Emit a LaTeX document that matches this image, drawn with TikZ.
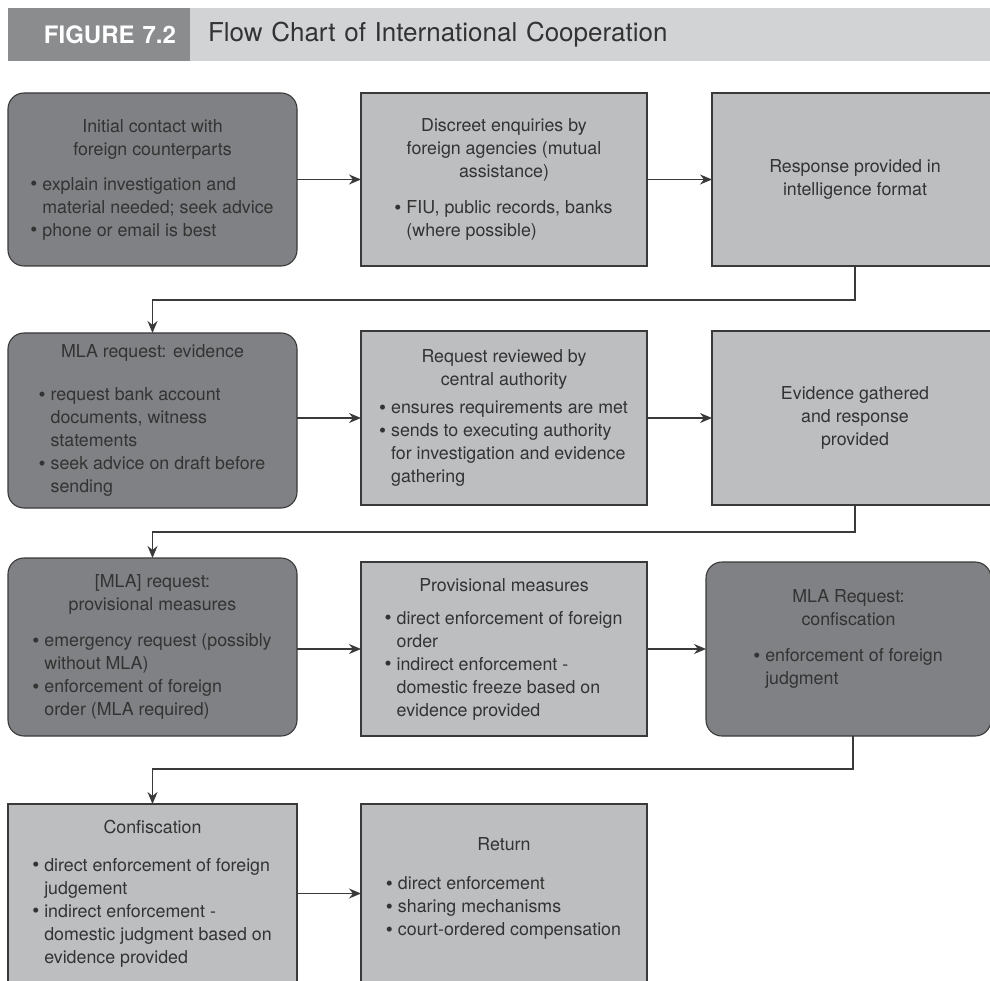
\documentclass[tikz,border=0pt]{standalone}
\usepackage{fontspec}
\setmainfont{TeX Gyre Heros}
\usetikzlibrary{positioning,arrows.meta}

\definecolor{boxdark}{HTML}{808184}
\definecolor{boxlight}{HTML}{BDBEC0}
\definecolor{hdrdark}{HTML}{8B8C8E}
\definecolor{hdrlight}{HTML}{D2D3D5}
\definecolor{ink}{HTML}{333333}
\definecolor{edge}{HTML}{3A3A3A}

% heading line, bullet, continuation indent
\newcommand{\hd}[1]{\multicolumn{1}{@{}c@{}}{#1}}
\newcommand{\bul}{\makebox[11pt][l]{\hspace{-1pt}\raisebox{-0.5pt}{\fontsize{20}{20}\selectfont\textbullet}}}
\newcommand{\ind}{\hspace*{11pt}}

\tikzset{
  every node/.style={text=ink, font=\fontsize{17.8}{23}\selectfont},
  darkbox/.style={rectangle, rounded corners=16pt, fill=boxdark, draw=edge,
                  line width=1.1pt, outer sep=0pt},
  lightbox/.style={rectangle, fill=boxlight, draw=edge, line width=1.1pt,
                   outer sep=0pt},
  flow/.style={draw=edge, line width=1.3pt, -{Stealth[length=12pt,width=10pt]}},
}

\begin{document}
\begin{tikzpicture}[x=1pt,y=1pt]
  \useasboundingbox (0,0) rectangle (990,-981);

  % title bar
  \node[fill=hdrdark, minimum width=182pt, minimum height=53pt, anchor=north west,
        text width=154pt, align=right, inner sep=0pt, outer sep=0pt, text=white,
        font=\fontsize{24}{30}\selectfont\bfseries] (figtag) at (8,-8) {FIGURE 7.2};
  \node[fill=hdrlight, minimum width=800pt, minimum height=53pt, right=0pt of figtag,
        text width=764pt, align=left, inner sep=0pt, outer sep=0pt,
        font=\fontsize{26}{30}\selectfont] (title) {Flow Chart of International Cooperation};

  % row 1
  \node[darkbox, minimum width=289pt, minimum height=173pt] (r1a) at (152.5,-179.5)
    {\begin{tabular}{@{}l@{}}
      \hd{Initial contact with}\\ \hd{foreign counterparts}\\[12pt]
      \bul explain investigation and\\ \ind material needed; seek advice\\
      \bul phone or email is best
     \end{tabular}};
  \node[lightbox, minimum width=286pt, minimum height=173pt, right=64pt of r1a] (r1b)
    {\begin{tabular}{@{}l@{}}
      \hd{Discreet enquiries by}\\ \hd{foreign agencies (mutual}\\ \hd{assistance)}\\[13pt]
      \bul FIU, public records, banks\\ \ind (where possible)
     \end{tabular}};
  \node[lightbox, minimum width=286pt, minimum height=173pt, right=65pt of r1b] (r1c)
    {\begin{tabular}{@{}c@{}}Response provided in\\ intelligence format\end{tabular}};

  % row 2
  \node[darkbox, minimum width=289pt, minimum height=175pt, below=67pt of r1a] (r2a)
    {\begin{tabular}{@{}l@{}}
      \hd{MLA request: evidence}\\[20pt]
      \bul request bank account\\ \ind documents, witness\\ \ind statements\\
      \bul seek advice on draft before\\ \ind sending
     \end{tabular}};
  \node[lightbox, minimum width=286pt, minimum height=174pt, below=65pt of r1b] (r2b)
    {\begin{tabular}{@{}l@{}}
      \hd{Request reviewed by}\\ \hd{central authority}\\[5pt]
      \bul ensures requirements are met\\ \bul sends to executing authority\\
      \ind for investigation and evidence\\ \ind gathering
     \end{tabular}};
  \node[lightbox, minimum width=286pt, minimum height=174pt, below=65pt of r1c] (r2c)
    {\begin{tabular}{@{}c@{}}Evidence gathered\\ and response\\ provided\end{tabular}};

  % row 3
  \node[darkbox, minimum width=289pt, minimum height=178pt, below=50pt of r2a] (r3a)
    {\begin{tabular}{@{}l@{}}
      \hd{[MLA] request:}\\ \hd{provisional measures}\\[13pt]
      \bul emergency request (possibly\\ \ind without MLA)\\
      \bul enforcement of foreign\\ \ind order (MLA required)
     \end{tabular}};
  \node[lightbox, minimum width=286pt, minimum height=174pt, below=57pt of r2b] (r3b)
    {\begin{tabular}{@{}l@{}}
      \hd{Provisional measures}\\[10pt]
      \bul direct enforcement of foreign\\ \ind order\\
      \bul indirect enforcement -\\ \ind domestic freeze based on\\ \ind evidence provided
     \end{tabular}};
  \node[darkbox, minimum width=285pt, minimum height=174pt, right=59pt of r3b] (r3c)
    {\begin{tabular}{@{}l@{}}
      \hd{MLA Request:}\\ \hd{confiscation}\\[13pt]
      \bul enforcement of foreign\\ \ind judgment\\[20pt]
     \end{tabular}};

  % row 4
  \node[lightbox, minimum width=289pt, minimum height=179pt, below=68pt of r3a] (r4a)
    {\begin{tabular}{@{}l@{}}
      \hd{Confiscation}\\[15pt]
      \bul direct enforcement of foreign\\ \ind judgement\\
      \bul indirect enforcement -\\ \ind domestic judgment based on\\ \ind evidence provided
     \end{tabular}};
  \node[lightbox, minimum width=286pt, minimum height=179pt, below=68pt of r3b] (r4b)
    {\begin{tabular}{@{}l@{}}
      \hd{Return}\\[16pt]
      \bul direct enforcement\\ \bul sharing mechanisms\\
      \bul court-ordered compensation\\[10pt]
     \end{tabular}};

  % connectors
  \draw[flow] (r1a) -- (r1b);
  \draw[flow] (r1b) -- (r1c);
  \draw[flow] (r1c.south) -- ++(0,-34) -| (r2a.north);
  \draw[flow] (r2a.east |- r2b) -- (r2b);
  \draw[flow] (r2b) -- (r2c);
  \draw[flow] (r2c.south) -- ++(0,-27) -| (r3a.north);
  \draw[flow] (r3a.east |- r3b) -- (r3b);
  \draw[flow] (r3b) -- (r3c);
  \draw[flow] ([xshift=4.5pt]r3c.south) -- ++(0,-33) -| (r4a.north);
  \draw[flow] (r4a) -- (r4b);
\end{tikzpicture}
\end{document}
